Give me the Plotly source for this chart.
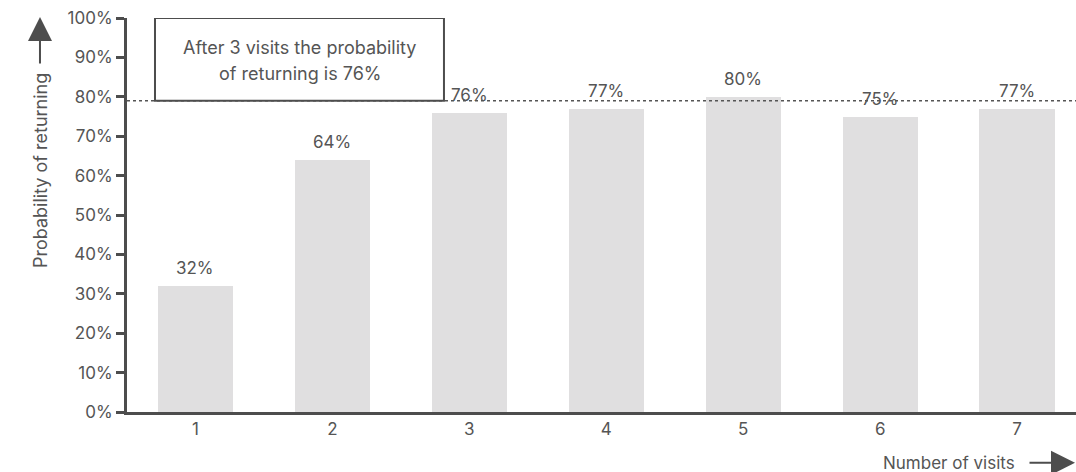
import plotly.graph_objects as go

# Visit counts and the share of customers who come back after each
visits = [1, 2, 3, 4, 5, 6, 7]
return_pct = [32, 64, 76, 77, 80, 75, 77]
plateau_pct = 79
y_ticks = [0, 10, 20, 30, 40, 50, 60, 70, 80, 90, 100]
y_tick_labels = [f"{t}%" for t in y_ticks]
note_lines = ["After 3 visits the probability", "of returning is 76%"]

FONT = "Inter"
TEXT = "#555555"
AXIS = "#4d4d4d"
BAR = "#e0dfe0"

fig = go.Figure()
fig.add_trace(go.Bar(
    x=visits, y=return_pct, width=0.55,
    marker=dict(color=BAR, line=dict(width=0)),
    hoverinfo="skip",
))

# value labels above each bar
for x, v in zip(visits, return_pct):
    fig.add_annotation(x=x, y=v, text=f"{v}%", showarrow=False, yshift=18,
                       xanchor="center", yanchor="middle",
                       font=dict(family=FONT, size=17, color=TEXT))

# dotted reference line and the note box sitting on it
fig.add_shape(type="line", xref="paper", yref="y", x0=0, x1=1,
              y0=plateau_pct, y1=plateau_pct,
              line=dict(color=TEXT, width=1.5, dash="dot"), layer="above")
fig.add_shape(type="rect", xref="paper", yref="y", x0=0.0295, x1=0.334,
              y0=plateau_pct, y1=100, fillcolor="white",
              line=dict(color=AXIS, width=2), layer="above")
for text, yy in zip(note_lines, [92.4, 85.8]):
    fig.add_annotation(x=0.182, xref="paper", y=yy, yref="y", text=text,
                       showarrow=False, xanchor="center", yanchor="middle",
                       font=dict(family=FONT, size=18, color=TEXT))

# axis titles with arrows
fig.add_annotation(xref="paper", yref="paper", x=-0.0917, y=0.614,
                   xanchor="center", yanchor="middle",
                   text="Probability of returning", textangle=-90,
                   showarrow=False, font=dict(family=FONT, size=18, color=TEXT))
fig.add_annotation(xref="paper", yref="paper", x=-0.0917, y=1.0025,
                   ax=0, ay=48, text="", showarrow=True, arrowhead=2,
                   arrowsize=2.4, arrowwidth=2, arrowcolor=AXIS)
fig.add_annotation(xref="paper", yref="paper", x=0.938, y=-0.129,
                   xanchor="right", yanchor="middle", text="Number of visits",
                   showarrow=False, font=dict(family=FONT, size=17, color=TEXT))
fig.add_annotation(xref="paper", yref="paper", x=1.0, y=-0.129,
                   ax=-48, ay=0, text="", showarrow=True, arrowhead=2,
                   arrowsize=2.4, arrowwidth=2, arrowcolor=AXIS)

fig.update_layout(
    width=1076, height=472,
    margin=dict(l=127, r=0, t=18, b=60),
    plot_bgcolor="white", paper_bgcolor="white",
    showlegend=False,
    font=dict(family=FONT, size=17, color=TEXT),
    bargap=0,
)
fig.update_xaxes(range=[0.5, 7.43], tickvals=visits, showline=True,
                 linewidth=3, linecolor=AXIS, showgrid=False, zeroline=False,
                 ticks="", tickfont=dict(family=FONT, size=17, color=TEXT))
fig.update_yaxes(range=[0, 100], tickvals=y_ticks, ticktext=y_tick_labels,
                 showline=True, linewidth=3, linecolor=AXIS, showgrid=False,
                 zeroline=False, ticks="outside", ticklen=8, tickwidth=3,
                 tickcolor=AXIS, tickfont=dict(family=FONT, size=17, color=TEXT))

fig.write_html("out.html")
